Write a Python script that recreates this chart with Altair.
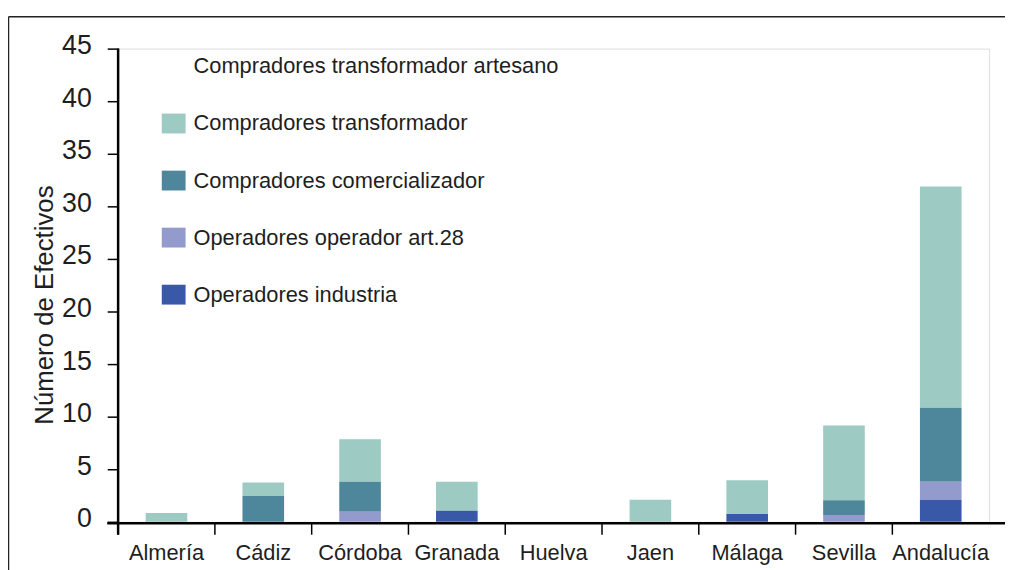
import altair as alt
import pandas as pd

categories = ["Almería", "Cádiz", "Córdoba", "Granada", "Huelva", "Jaen", "Málaga", "Sevilla", "Andalucía"]
series = [
    "Compradores transformador artesano",
    "Compradores transformador",
    "Compradores comercializador",
    "Operadores operador art.28",
    "Operadores industria",
]
colors = ["#ffffff", "#9dcac3", "#4e869b", "#939bcd", "#3a58a8"]

artesano = [0, 0, 0, 0, 0, 0, 0, 0, 0]
transformador = [0.85, 1.3, 4.05, 2.75, 0, 2.1, 3.2, 7.1, 21.05]
comercializador = [0, 2.45, 2.85, 0, 0, 0, 0, 1.4, 7.05]
art28 = [0, 0, 0.95, 0, 0, 0, 0, 0.65, 1.7]
industria = [0, 0, 0, 1.05, 0, 0, 0.75, 0, 2.1]

y_ticks = [0, 5, 10, 15, 20, 25, 30, 35, 40, 45]

values_by_series = [artesano, transformador, comercializador, art28, industria]
rows = []
for s_i, (name, vals) in enumerate(zip(series, values_by_series)):
    for c, v in zip(categories, vals):
        rows.append({"cat": c, "serie": name, "val": v, "ord": len(series) - s_i})
df = pd.DataFrame(rows)
cat_df = pd.DataFrame({"cat": categories})

W, H = 878, 477
FONT = "Liberation Sans"
TXT = "#1e1e1e"

x_enc = alt.X(
    "cat:N",
    sort=categories,
    scale=alt.Scale(paddingInner=0.57, paddingOuter=0.285),
    axis=alt.Axis(title=None, ticks=False, tickSize=0, domain=False, labelPadding=21,
                  labelFontSize=22, labelFont=FONT, labelColor=TXT, labelAngle=0),
)

bars = alt.Chart(df).mark_bar(stroke=None).encode(
    x=x_enc,
    y=alt.Y(
        "sum(val):Q",
        scale=alt.Scale(domain=[0, 45], nice=False),
        stack="zero",
        axis=alt.Axis(
            title="Número de Efectivos", values=y_ticks, grid=False, domain=False,
            tickSize=11, tickWidth=1.5, tickColor="#000", labelPadding=16,
            labelFontSize=27, labelFont=FONT, labelColor=TXT, labelOffset=-3,
            titleFontSize=26, titleFont=FONT, titleFontWeight="normal", titleColor=TXT,
            titleAngle=270, titleBaseline="alphabetic", titleX=-66, titleY=258,
        ),
    ),
    color=alt.Color(
        "serie:N",
        scale=alt.Scale(domain=series, range=colors),
        legend=alt.Legend(
            title=None, orient="none", legendX=45, legendY=7,
            labelFontSize=22, labelFont=FONT, labelColor=TXT, labelOffset=9,
            symbolType="M-1.2,-1H1.2V1H-1.2Z", symbolSize=400, symbolStrokeWidth=0,
            rowPadding=35.5, padding=0, labelLimit=600,
        ),
    ),
    order=alt.Order("ord:Q"),
)

one = alt.Data(values=[{"a": 1}])

xticks = alt.Chart(cat_df).mark_rule(color="#000", strokeWidth=1.5, xOffset=-W / 9 / 2).encode(
    x=alt.X("cat:N", sort=categories),
    y=alt.value(H + 1),
    y2=alt.value(H + 13),
)

y_line = alt.Chart(one).mark_rule(color="#000", strokeWidth=2.5).encode(
    x=alt.value(0), y=alt.value(0), y2=alt.value(H + 13)
)
x_line = alt.Chart(one).mark_rule(color="#000", strokeWidth=2.5).encode(
    x=alt.value(-11), x2=alt.value(W + 16), y=alt.value(H + 1.5)
)
frame_top = alt.Chart(one).mark_rule(color="#222", strokeWidth=1.5).encode(
    x=alt.value(-110.5), x2=alt.value(W + 16), y=alt.value(-32.2)
)
frame_left = alt.Chart(one).mark_rule(color="#222", strokeWidth=1.5).encode(
    x=alt.value(-110.5), y=alt.value(-32.2), y2=alt.value(H + 60)
)

chart = alt.layer(bars, xticks, y_line, x_line, frame_top, frame_left).properties(
    width=W, height=H,
    autosize=alt.AutoSizeParams(type="none"),
    padding={"left": 111, "top": 38.7, "right": 16, "bottom": 46},
).configure_view(stroke=None).configure(background="white")

chart.save("out.html", embed_options={"renderer": "svg", "actions": False})
